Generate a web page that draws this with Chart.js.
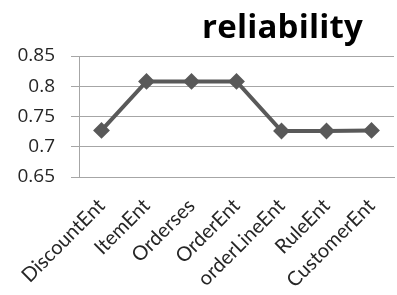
<!DOCTYPE html>
<html>
<head>
<meta charset="utf-8">
<script src="https://cdn.jsdelivr.net/npm/chart.js@4/dist/chart.umd.min.js"></script>
<style>
  html, body { margin: 0; padding: 0; background: #fff; overflow: hidden; }
  .wrap { position: relative; width: 403px; height: 295px; }
  .title {
    position: absolute; left: 202px; top: 3px;
    font: bold 33px "Open Sans", sans-serif; color: #000; white-space: nowrap;
    letter-spacing: 0.2px;
  }
</style>
</head>
<body>
<div class="wrap">
  <canvas id="chart" width="403" height="295"></canvas>
  <div class="title">reliability</div>
</div>
<script>
// data
const categories = ['DiscountEnt', 'ItemEnt', 'Orderses', 'OrderEnt', 'orderLineEnt', 'RuleEnt', 'CustomerEnt'];
const reliability = [0.727, 0.808, 0.808, 0.808, 0.726, 0.726, 0.727];
const yTicks = [0.65, 0.7, 0.75, 0.8, 0.85];

new Chart(document.getElementById('chart'), {
  type: 'line',
  data: {
    labels: categories,
    datasets: [{
      label: 'reliability',
      data: reliability,
      borderColor: '#595959',
      backgroundColor: '#595959',
      borderWidth: 4,
      pointStyle: 'rectRot',
      pointRadius: 7,
      pointBorderWidth: 2,
      tension: 0
    }]
  },
  options: {
    responsive: false,
    animation: false,
    layout: { padding: { top: 56, left: 0, right: 0, bottom: 0 } },
    plugins: { legend: { display: false }, tooltip: { enabled: false } },
    scales: {
      x: {
        offset: true,
        grid: { display: false },
        border: { display: true, color: '#a6a6a6', width: 1 },
        ticks: {
          color: '#262626', font: { family: 'Lato', size: 20 },
          maxRotation: 45, minRotation: 45, padding: 9, autoSkip: false
        },
        afterFit: s => { s.height = 118; }
      },
      y: {
        min: 0.65, max: 0.85,
        afterBuildTicks: s => { s.ticks = yTicks.map(v => ({ value: v })); },
        grid: { color: '#a6a6a6', lineWidth: 1, tickLength: 8 },
        border: { display: true, color: '#a6a6a6', width: 1 },
        ticks: {
          color: '#262626', font: { family: 'Open Sans', size: 19 }, padding: 16,
          callback: v => String(+v.toFixed(2))
        },
        afterFit: s => { s.width = 79; }
      }
    }
  }
});
</script>
</body>
</html>
